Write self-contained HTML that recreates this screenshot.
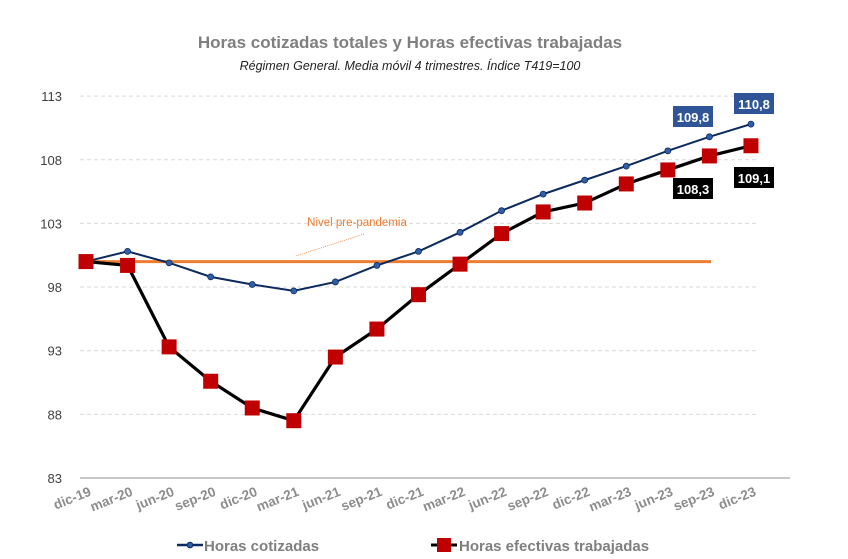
<!DOCTYPE html>
<html><head><meta charset="utf-8"><style>
body{margin:0;background:#fff;font-family:"Liberation Sans",sans-serif}
svg{display:block}
</style></head><body>
<svg id="chart" width="848" height="559" xmlns="http://www.w3.org/2000/svg">
<text x="410" y="48" text-anchor="middle" font-size="17" font-weight="bold" fill="#7f7f7f">Horas cotizadas totales y Horas efectivas trabajadas</text>
<text x="410" y="70" text-anchor="middle" font-size="12.5" font-style="italic" fill="#222">Régimen General. Media móvil 4 trimestres. Índice T419=100</text>
<g id="grid"></g><g id="marks"></g>
<g>
<line x1="177" y1="545" x2="203" y2="545" stroke="#0d2a5e" stroke-width="2.5"/>
<circle cx="190" cy="545" r="2.8" fill="#2f5fa8" stroke="#0d2a5e"/>
<text x="204" y="551" font-size="15" font-weight="bold" fill="#7f7f7f">Horas cotizadas</text>
<line x1="431" y1="545" x2="457" y2="545" stroke="#000" stroke-width="3"/>
<rect x="437" y="538" width="14" height="14" fill="#c00000"/>
<text x="459" y="551" font-size="15" font-weight="bold" fill="#7f7f7f">Horas efectivas trabajadas</text>
</g>
</svg>
<script>
const categories=["dic-19","mar-20","jun-20","sep-20","dic-20","mar-21","jun-21","sep-21","dic-21","mar-22","jun-22","sep-22","dic-22","mar-23","jun-23","sep-23","dic-23"];
const cotizadas=[100.0,100.8,99.9,98.8,98.2,97.7,98.4,99.7,100.8,102.3,104.0,105.3,106.4,107.5,108.7,109.8,110.8];
const efectivas=[100.0,99.7,93.3,90.6,88.5,87.5,92.5,94.7,97.4,99.8,102.2,103.9,104.6,106.1,107.2,108.3,109.1];
const yTicks=[83,88,93,98,103,108,113];
const preLevel=100;
const NS="http://www.w3.org/2000/svg";
const x=i=>86+i*41.56;
const y=v=>478-(v-83)*12.73;
function mk(t,a,p){const e=document.createElementNS(NS,t);for(const k in a)e.setAttribute(k,a[k]);p.appendChild(e);return e;}
const grid=document.getElementById('grid'),marks=document.getElementById('marks');
yTicks.forEach(v=>{
  if(v>83){const l=mk('line',{x1:80,x2:758,y1:y(v),y2:y(v),stroke:'#d9d9d9','stroke-dasharray':'4,3'},grid);
  
  }
  const t=mk('text',{x:62,y:y(v)+5,'font-size':13,'text-anchor':'end',fill:'#404040'},grid);t.textContent=v;
  
  
});
const ax=mk('line',{x1:80,x2:790,y1:478,y2:478,stroke:'#a6a6a6','stroke-width':1.2},grid);


categories.forEach((c,i)=>{
  const t=mk('text',{x:x(i)+6,y:495,'font-size':13.5,'font-weight':'bold',fill:'#8c8c8c','text-anchor':'end',transform:`rotate(-22 ${x(i)+6} 495)`},grid);t.textContent=c;
  
  
});
const pl=mk('line',{x1:x(0),x2:711,y1:y(preLevel),y2:y(preLevel),stroke:'#ed7d31','stroke-width':3},marks);


const ld=mk('line',{x1:364,y1:234,x2:296,y2:256,stroke:'#ed7d31','stroke-width':0.8,'stroke-dasharray':'1,1'},marks);


const pt=mk('text',{x:357,y:226,'font-size':11.5,'text-anchor':'middle',fill:'#ed7d31'},marks);pt.textContent='Nivel pre-pandemia';


const pe=mk('polyline',{points:efectivas.map((v,i)=>x(i)+','+y(v)).join(' '),fill:'none',stroke:'#000','stroke-width':3.2},marks);


const pc=mk('polyline',{points:cotizadas.map((v,i)=>x(i)+','+y(v)).join(' '),fill:'none',stroke:'#0d2a5e','stroke-width':2},marks);


cotizadas.forEach((v,i)=>{
  const c=mk('circle',{cx:x(i),cy:y(v),r:3,fill:'#2f5fa8',stroke:'#0d2a5e','stroke-width':0.8},marks);
  
  
});
efectivas.forEach((v,i)=>{
  const r=mk('rect',{x:x(i)-7.5,y:y(v)-7.5,width:15,height:15,fill:'#c00000'},marks);
  
  
});
function lab(txt,cx,cy,bg,name){
  const g=mk('g',{},marks);
  
  
  mk('rect',{x:cx-20,y:cy-11,width:40,height:21,fill:bg},g);
  const t=mk('text',{x:cx,y:cy+5,'font-size':13,'font-weight':'bold',fill:'#fff','text-anchor':'middle'},g);t.textContent=txt;
}
const n=categories.length;
lab(String(cotizadas[n-2]).replace('.',','),693,117,'#2f5597','label-cotizadas-sep23');
lab(String(cotizadas[n-1]).replace('.',','),754,104,'#2f5597','label-cotizadas-dic23');
lab(String(efectivas[n-2]).replace('.',','),693,189,'#000','label-efectivas-sep23');
lab(String(efectivas[n-1]).replace('.',','),754,178,'#000','label-efectivas-dic23');
</script>
</body></html>
